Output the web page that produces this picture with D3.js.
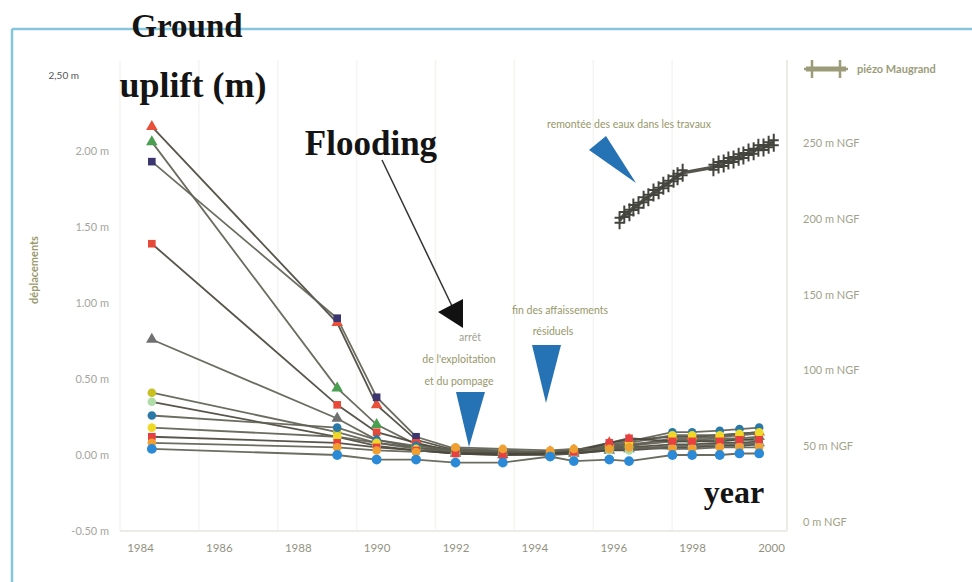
<!DOCTYPE html>
<html><head><meta charset="utf-8">
<script src="https://cdn.jsdelivr.net/npm/d3@7"></script>
<style>html,body{margin:0;padding:0;background:#fff;}svg{display:block;}</style>
</head><body>
<svg id="c" width="972" height="582"></svg>
<script>
// ---- data ----
const years = [1984.3, 1989.0, 1990.0, 1991.0, 1992.0, 1993.2, 1994.4, 1995.0, 1995.9, 1996.4, 1997.5, 1998.0, 1998.7, 1999.2, 1999.7];
const seriesNames = ["A","B","C","D","E","F","G","H","I","J","K","L"];
const seriesColors = ["#e8503a","#4aa050","#3b3570","#e84838","#707070","#c8c020","#b0dca8","#2a78a8","#f0d828","#e84040","#f0a030","#2a8ad8"];
const seriesShapes = ["triangle","triangle","square","square","triangle","circle","circle","circle","circle","square","circle","circle"];
const sA = [2.16, 0.87, 0.33, 0.10, 0.03, 0.02, 0.02, 0.03, 0.08, 0.10, 0.12, 0.12, 0.13, 0.14, 0.15];
const sB = [2.06, 0.44, 0.20, 0.07, 0.03, 0.02, 0.01, 0.02, 0.06, 0.07, 0.10, 0.10, 0.11, 0.11, 0.12];
const sC = [1.93, 0.90, 0.38, 0.12, 0.04, 0.02, 0.01, 0.02, 0.05, 0.06, 0.09, 0.09, 0.10, 0.10, 0.11];
const sD = [1.39, 0.33, 0.15, 0.08, 0.02, 0.01, 0.01, 0.01, 0.04, 0.05, 0.07, 0.07, 0.08, 0.08, 0.09];
const sE = [0.76, 0.24, 0.10, 0.05, 0.01, 0.00, 0.00, 0.01, 0.03, 0.04, 0.06, 0.06, 0.07, 0.07, 0.08];
const sF = [0.41, 0.15, 0.08, 0.05, 0.02, 0.02, 0.02, 0.02, 0.05, 0.06, 0.11, 0.11, 0.12, 0.13, 0.14];
const sG = [0.35, 0.12, 0.06, 0.03, 0.01, 0.01, 0.01, 0.01, 0.03, 0.03, 0.05, 0.05, 0.06, 0.06, 0.07];
const sH = [0.26, 0.18, 0.10, 0.06, 0.03, 0.02, 0.02, 0.03, 0.07, 0.09, 0.15, 0.15, 0.16, 0.17, 0.18];
const sI = [0.18, 0.12, 0.08, 0.04, 0.04, 0.03, 0.02, 0.03, 0.06, 0.08, 0.13, 0.13, 0.13, 0.14, 0.15];
const sJ = [0.12, 0.08, 0.05, 0.03, 0.01, 0.00, 0.01, 0.02, 0.08, 0.11, 0.09, 0.09, 0.09, 0.10, 0.10];
const sK = [0.08, 0.05, 0.03, 0.02, 0.05, 0.04, 0.03, 0.04, 0.04, 0.05, 0.04, 0.04, 0.05, 0.05, 0.05];
const sL = [0.04, 0.00, -0.03, -0.03, -0.05, -0.05, -0.01, -0.04, -0.03, -0.04, 0.00, 0.00, 0.00, 0.01, 0.01];
const seriesValues = [sA,sB,sC,sD,sE,sF,sG,sH,sI,sJ,sK,sL];

const piezoYears1 = [1996.16, 1996.28, 1996.41, 1996.51, 1996.64, 1996.77, 1996.89, 1997.02, 1997.15, 1997.27, 1997.40, 1997.53, 1997.63, 1997.76];
const piezoVals1  = [199.0, 202.8, 204.3, 207.5, 209.0, 212.6, 214.2, 217.3, 218.8, 221.8, 223.4, 226.5, 228.0, 230.3];
const piezoYears2 = [1998.54, 1998.67, 1998.80, 1998.92, 1999.05, 1999.18, 1999.30, 1999.43, 1999.56, 1999.68, 1999.81, 1999.94, 2000.07];
const piezoVals2  = [234.0, 235.8, 236.5, 238.4, 239.1, 241.0, 241.8, 243.7, 244.5, 246.9, 247.1, 248.9, 250.2];

const xTicks = [1984,1986,1988,1990,1992,1994,1996,1998,2000];
const yTicks = [-0.5,0,0.5,1,1.5,2,2.5];
const yTickLabels = ["-0.50 m","0.00 m","0.50 m","1.00 m","1.50 m","2.00 m","2,50 m"];
const y2Ticks = [0,50,100,150,200,250];
const y2TickLabels = ["0 m NGF","50 m NGF","100 m NGF","150 m NGF","200 m NGF","250 m NGF"];

// ---- drawing ----
const svg = d3.select("#c");
const x = d3.scaleLinear().domain([1984,2000]).range([140,771]);
const y = d3.scaleLinear().domain([-0.5,2.5]).range([531,75]);
const y2 = d3.scaleLinear().domain([0,250]).range([522,143]);

// frame (light blue)
svg.append("line").attr("x1",12).attr("x2",972).attr("y1",29).attr("y2",29).attr("stroke","#86c6dc").attr("stroke-width",2.5);
svg.append("line").attr("x1",12).attr("x2",12).attr("y1",29).attr("y2",582).attr("stroke","#86c6dc").attr("stroke-width",2.5);

// faint plot grid
const grid = svg.append("g");
grid.selectAll("line.v").data(xTicks.slice(0,8)).join("line")
  .attr("x1",d=>x(d)-20).attr("x2",d=>x(d)-20).attr("y1",60).attr("y2",531)
  .attr("stroke","#f4f4f0").attr("stroke-width",1.5);
grid.append("line").attr("x1",787).attr("x2",787).attr("y1",60).attr("y2",531).attr("stroke","#ececE4").attr("stroke-width",2);
grid.append("line").attr("x1",120).attr("x2",787).attr("y1",y(-0.5)).attr("y2",y(-0.5)).attr("stroke","#ececE6").attr("stroke-width",2);

// left axis labels
const axL = d3.axisLeft(y).tickValues(yTicks).tickSize(0).tickFormat((d,i)=>yTickLabels[i]);
const gL = svg.append("g").attr("transform","translate(112,0)").call(axL);
gL.select(".domain").remove();
gL.selectAll("text").attr("fill","#a6a69e").attr("font-family","Lato, sans-serif").attr("font-size",11).attr("dx",0);
gL.selectAll(".tick").filter(d=>d===2.5).select("text").attr("font-size",10).attr("fill","#555").attr("dx",-30);

// right axis labels
const axR = d3.axisRight(y2).tickValues(y2Ticks).tickSize(0).tickFormat((d,i)=>y2TickLabels[i]);
const gR = svg.append("g").attr("transform","translate(800,0)").call(axR);
gR.select(".domain").remove();
gR.selectAll("text").attr("fill","#a2a28a").attr("font-family","Lato, sans-serif").attr("font-size",11);

// x axis labels
const axB = d3.axisBottom(x).tickValues(xTicks).tickSize(0).tickFormat(d3.format("d"));
const gB = svg.append("g").attr("transform","translate(0,541)").call(axB);
gB.select(".domain").remove();
gB.selectAll("text").attr("fill","#92927f").attr("font-family","Lato, sans-serif").attr("font-size",11.5);

// y axis title
svg.append("text").attr("transform","translate(38,270) rotate(-90)").attr("text-anchor","middle")
  .attr("font-family","Lato, sans-serif").attr("font-size",11).attr("font-weight","bold").attr("fill","#9a9a6e").text("déplacements");

// series lines
const line = d3.line().x((d,i)=>x(years[i])).y(d=>y(d));
const gLines = svg.append("g");
seriesValues.forEach((vals,k)=>{
  gLines.append("path").datum(vals).attr("d",line).attr("fill","none")
    .attr("stroke",k%3===0?"#4a463c":"#606054").attr("stroke-width",1.8).attr("opacity",0.92);
});

// markers
const symMap = {triangle:d3.symbolTriangle, square:d3.symbolSquare, circle:d3.symbolCircle};
const gMarks = svg.append("g");
seriesValues.forEach((vals,k)=>{
  const sz = seriesShapes[k]==="circle"? (k===11?75:58) : 58;
  gMarks.selectAll(null).data(vals).join("path")
    .attr("d",d3.symbol().type(symMap[seriesShapes[k]]).size(sz))
    .attr("transform",(d,i)=>`translate(${x(years[i])},${y(d)})`)
    .attr("fill",seriesColors[k]);
});

// piezometer series (right axis)
const pline = d3.line().x(d=>x(d[0])).y(d=>y2(d[1]));
const pAll = piezoYears1.map((d,i)=>[d,piezoVals1[i]]).concat(piezoYears2.map((d,i)=>[d,piezoVals2[i]]));
svg.append("path").datum(pAll).attr("d",pline).attr("fill","none").attr("stroke","#55554e").attr("stroke-width",3.5);
const crossPath = "M0,-9V9M-5,-2.5H5M-5,2.5H5";
svg.append("g").selectAll("path").data(pAll).join("path")
  .attr("d",crossPath).attr("transform",d=>`translate(${x(d[0])},${y2(d[1])})`)
  .attr("stroke","#44443e").attr("stroke-width",2).attr("fill","none");

// legend
const lg = svg.append("g").attr("transform","translate(802,69)");
lg.append("line").attr("x1",4).attr("x2",44).attr("y1",0).attr("y2",0).attr("stroke","#9c9c7a").attr("stroke-width",5);
lg.append("path").attr("d","M10,-9V9M38,-9V9M2,0H46").attr("stroke","#9c9c7a").attr("stroke-width",2.5);
lg.append("text").attr("x",55).attr("y",4).attr("font-family","Lato, sans-serif").attr("font-size",11)
  .attr("font-weight","bold").attr("fill","#9c9c7a").text("piézo Maugrand");

// annotation texts
const olive = "#97976a";
function txt(xp,yp,s,opts={}){
  return svg.append("text").attr("x",xp).attr("y",yp).attr("text-anchor",opts.anchor||"middle")
    .attr("font-family","Lato, sans-serif").attr("font-size",opts.size||10.5).attr("fill",opts.fill||olive).text(s);
}
txt(629,128,"remontée des eaux dans les travaux");
txt(470,341,"arrêt",{fill:"#9f9f90"});
txt(459,363,"de l'exploitation");
txt(459,385,"et du pompage");
txt(560,314,"fin des affaissements");
txt(553,335,"résiduels");

// blue triangles
const blue = "#2572b4";
svg.append("path").attr("d","M589,150L606,136L636,183Z").attr("fill",blue);
svg.append("path").attr("d","M456,392L485,392L469,447Z").attr("fill",blue);
svg.append("path").attr("d","M532,345L561,345L546,403Z").attr("fill",blue);

// black Flooding arrow
svg.append("line").attr("x1",382).attr("y1",160).attr("x2",452).attr("y2",306).attr("stroke","#333").attr("stroke-width",1.5);
svg.append("path").attr("d","M438,312L463,299L463,328Z").attr("fill","#111");

// big serif labels
function big(xp,yp,s,size){
  return svg.append("text").attr("x",xp).attr("y",yp).attr("text-anchor","middle")
    .attr("font-family","'Liberation Serif', 'Times New Roman', serif").attr("font-weight","bold")
    .attr("font-size",size).attr("fill","#141414").text(s);
}
big(187,37,"Ground",33);
big(193,97,"uplift (m)",36);
big(371,155,"Flooding",35);
big(734,503,"year",32);
</script>
</body></html>
